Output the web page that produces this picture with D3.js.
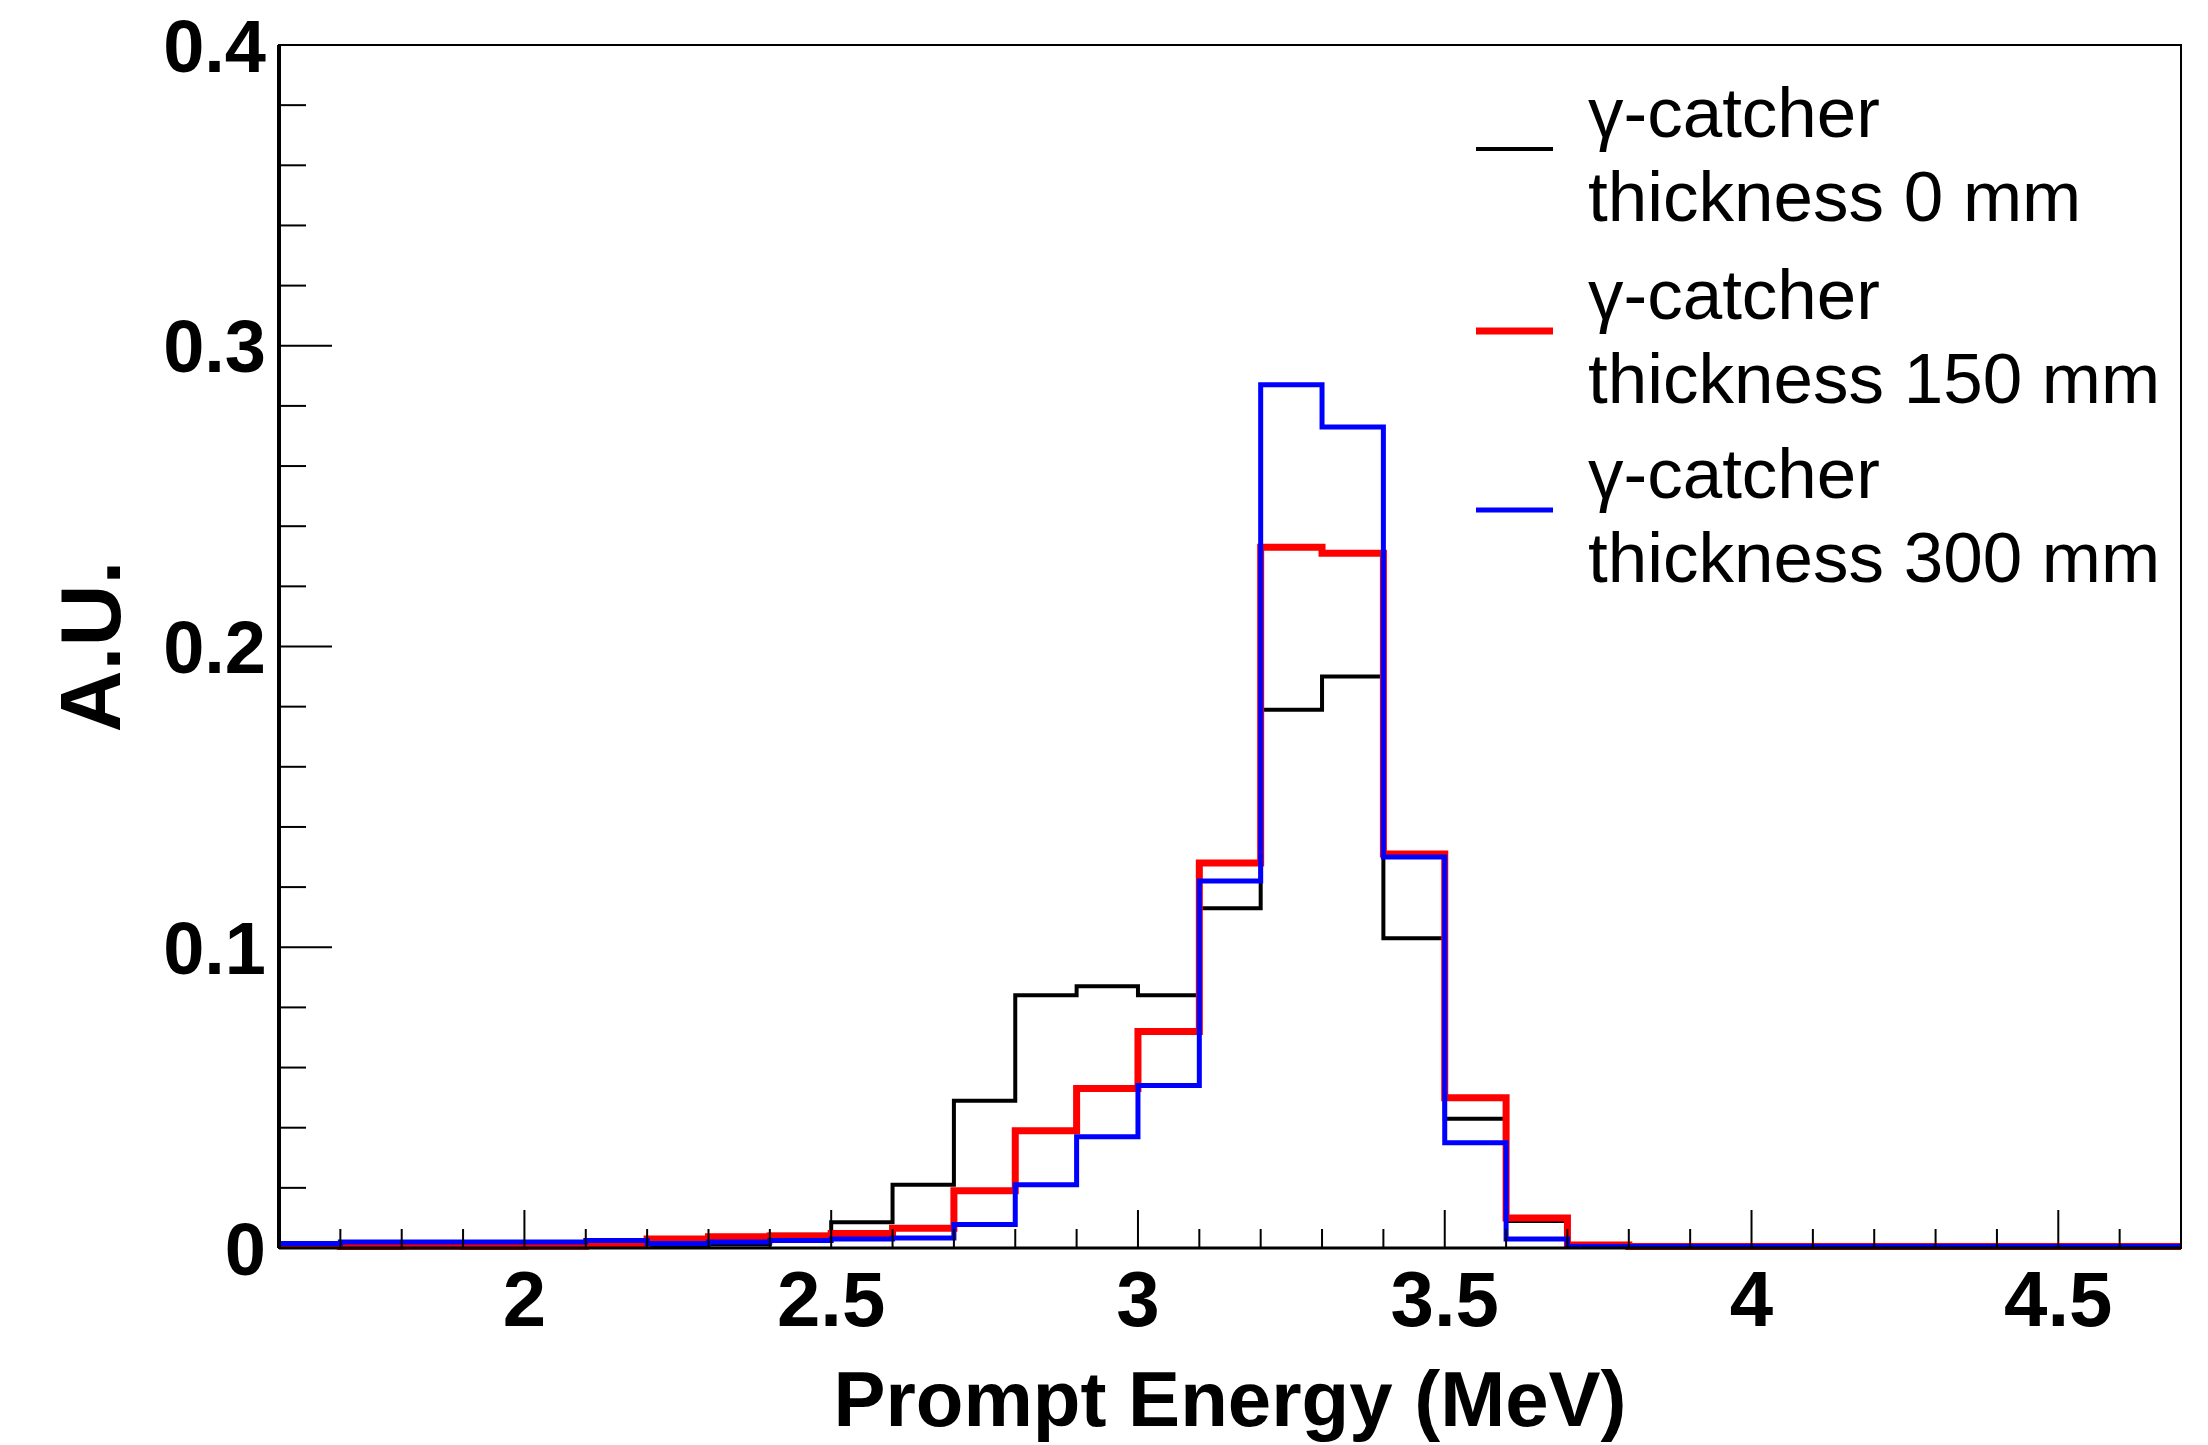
<!DOCTYPE html>
<html><head><meta charset="utf-8">
<script src="https://cdn.jsdelivr.net/npm/d3@7"></script>
<style>html,body{margin:0;padding:0;background:#fff;}svg{display:block;}</style>
</head><body>
<svg id="chart" width="2208" height="1445"></svg>
<script>
const binStart = 1.6, binWidth = 0.1;
const xTicks = [2, 2.5, 3, 3.5, 4, 4.5];
const yTicks = [0, 0.1, 0.2, 0.3, 0.4];
const seriesNames = ["thickness 0 mm", "thickness 150 mm", "thickness 300 mm"];
const seriesColors = ["#000000", "#ff0000", "#0000ff"];
// bins 1.6 .. 4.7 (31 bins)
const thick0 = [0.0003,0.0003,0.0003,0.0003,0.0003,0.0004,0.0006,0.0012,0.0044,0.0086,0.021,0.049,0.084,0.087,0.084,0.113,0.179,0.190,0.103,0.043,0.009,0.001,0,0,0,0,0,0,0,0,0];
const thick150 = [0.0008,0.0005,0.0006,0.0005,0.0006,0.0010,0.0030,0.0037,0.0040,0.0048,0.0066,0.019,0.039,0.053,0.072,0.128,0.233,0.231,0.131,0.050,0.010,0.001,0.0005,0.0005,0.0005,0.0005,0.0005,0.0005,0.0005,0.0005,0.0005];
const thick300 = [0.0015,0.0020,0.0020,0.0020,0.0020,0.0025,0.0015,0.0020,0.0025,0.0030,0.0033,0.0078,0.021,0.037,0.054,0.122,0.287,0.273,0.130,0.035,0.003,0.0005,0.0005,0.0005,0.0005,0.0005,0.0005,0.0005,0.0005,0.0005,0.0005];
const allSeries = [thick0, thick150, thick300];
const lineWidths = [4, 7, 5];

const svg = d3.select("#chart");
const L = 279, R = 2181, T = 45, B = 1248;
const x = d3.scaleLinear().domain([1.6, 4.7]).range([L, R]);
const y = d3.scaleLinear().domain([0, 0.4]).range([B, T]);
const font = "'Liberation Sans', Arial, Helvetica, sans-serif";

// histograms
allSeries.forEach((vals, si) => {
  const pts = [];
  vals.forEach((v, i) => {
    const x0 = binStart + i * binWidth, x1 = x0 + binWidth;
    pts.push([x(x0), y(v)]);
    pts.push([x(x1), y(v)]);
  });
  svg.append("path")
    .attr("d", d3.line()(pts))
    .attr("fill", "none")
    .attr("stroke", seriesColors[si])
    .attr("stroke-width", lineWidths[si])
    .attr("stroke-linejoin", "miter");
});

// frame
svg.append("rect").attr("x", L).attr("y", T).attr("width", R - L).attr("height", B - T)
  .attr("fill", "none").attr("stroke", "#000").attr("stroke-width", 2);
svg.append("line").attr("x1", L).attr("x2", L).attr("y1", T).attr("y2", B).attr("stroke", "#000").attr("stroke-width", 4);
svg.append("line").attr("x1", L).attr("x2", R).attr("y1", B).attr("y2", B).attr("stroke", "#000").attr("stroke-width", 3);

// x axis ticks
const xMinor = d3.range(16, 48).map(d => d / 10).filter(d => d <= 4.7 + 1e-9);
xMinor.forEach(v => {
  const major = xTicks.some(t => Math.abs(t - v) < 1e-9);
  svg.append("line").attr("x1", x(v)).attr("x2", x(v)).attr("y1", B).attr("y2", B - (major ? 38 : 19))
    .attr("stroke", "#000").attr("stroke-width", 2);
});
xTicks.forEach(v => {
  svg.append("text").attr("x", x(v)).attr("y", 1326).attr("text-anchor", "middle")
    .attr("font-family", font).attr("font-weight", "bold").attr("font-size", 78).text(String(v));
});

// y axis ticks
d3.range(0, 21).map(d => d * 0.02).forEach(v => {
  const major = yTicks.some(t => Math.abs(t - v) < 1e-9);
  svg.append("line").attr("x1", L).attr("x2", L + (major ? 53 : 27)).attr("y1", y(v)).attr("y2", y(v))
    .attr("stroke", "#000").attr("stroke-width", 2);
});
yTicks.forEach(v => {
  svg.append("text").attr("x", 266).attr("y", y(v)).attr("dy", "0.36em").attr("text-anchor", "end")
    .attr("font-family", font).attr("font-weight", "bold").attr("font-size", 74).text(v === 0 ? "0" : v.toFixed(1));
});

// axis titles
svg.append("text").attr("x", (L + R) / 2).attr("y", 1426).attr("text-anchor", "middle")
  .attr("font-family", font).attr("font-weight", "bold").attr("font-size", 78).text("Prompt Energy (MeV)");
svg.append("text").attr("transform", `translate(120,${(T + B) / 2}) rotate(-90)`).attr("text-anchor", "middle")
  .attr("font-family", font).attr("font-weight", "bold").attr("font-size", 86).text("A.U.");

// legend
const legY = [149, 331, 510];
seriesNames.forEach((name, i) => {
  svg.append("line").attr("x1", 1476).attr("x2", 1553).attr("y1", legY[i]).attr("y2", legY[i])
    .attr("stroke", seriesColors[i]).attr("stroke-width", lineWidths[i]);
  svg.append("text").attr("x", 1588).attr("y", legY[i] - 12)
    .attr("font-family", font).attr("font-size", 71).text("γ-catcher");
  svg.append("text").attr("x", 1588).attr("y", legY[i] + 72)
    .attr("font-family", font).attr("font-size", 71).text(name);
});
</script>
</body></html>
